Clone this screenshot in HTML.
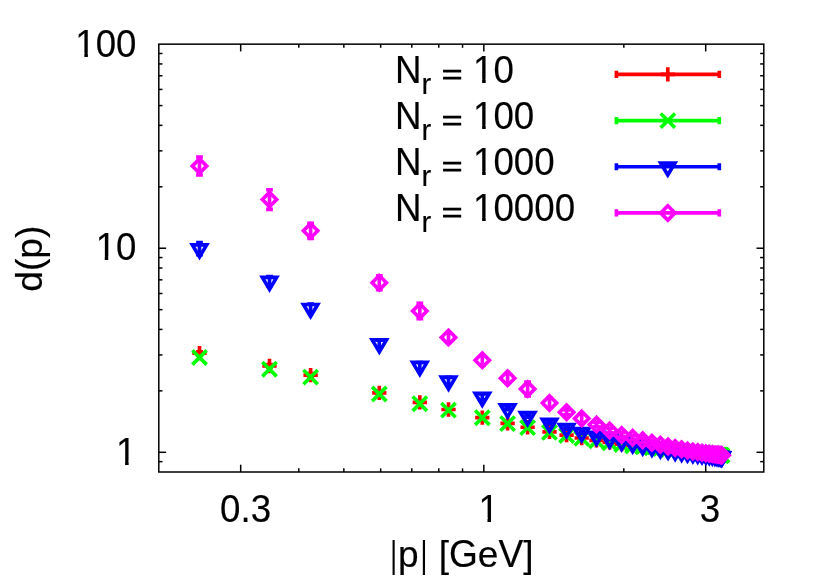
<!DOCTYPE html>
<html><head><meta charset="utf-8"><title>d(p)</title>
<style>
html,body{margin:0;padding:0;background:#fff;}
svg{display:block;will-change:transform;}
text{font-family:"Liberation Sans",sans-serif;font-size:37.2px;fill:#000;stroke:#000;stroke-width:0.15px;font-kerning:none;}
</style></head><body>
<svg width="830" height="581" viewBox="0 0 830 581">
<rect width="830" height="581" fill="#fff"/>
<rect x="158.8" y="44.15" width="605.0" height="427.85" fill="none" stroke="#000" stroke-width="1.5"/>
<line x1="240.69" y1="472.00" x2="240.69" y2="464.70" stroke="#000" stroke-width="1.5" />
<line x1="240.69" y1="44.15" x2="240.69" y2="51.45" stroke="#000" stroke-width="1.5" />
<line x1="298.78" y1="472.00" x2="298.78" y2="468.35" stroke="#000" stroke-width="1.5" />
<line x1="298.78" y1="44.15" x2="298.78" y2="47.80" stroke="#000" stroke-width="1.5" />
<line x1="343.85" y1="472.00" x2="343.85" y2="468.35" stroke="#000" stroke-width="1.5" />
<line x1="343.85" y1="44.15" x2="343.85" y2="47.80" stroke="#000" stroke-width="1.5" />
<line x1="380.67" y1="472.00" x2="380.67" y2="468.35" stroke="#000" stroke-width="1.5" />
<line x1="380.67" y1="44.15" x2="380.67" y2="47.80" stroke="#000" stroke-width="1.5" />
<line x1="411.80" y1="472.00" x2="411.80" y2="468.35" stroke="#000" stroke-width="1.5" />
<line x1="411.80" y1="44.15" x2="411.80" y2="47.80" stroke="#000" stroke-width="1.5" />
<line x1="438.77" y1="472.00" x2="438.77" y2="468.35" stroke="#000" stroke-width="1.5" />
<line x1="438.77" y1="44.15" x2="438.77" y2="47.80" stroke="#000" stroke-width="1.5" />
<line x1="462.55" y1="472.00" x2="462.55" y2="468.35" stroke="#000" stroke-width="1.5" />
<line x1="462.55" y1="44.15" x2="462.55" y2="47.80" stroke="#000" stroke-width="1.5" />
<line x1="483.83" y1="472.00" x2="483.83" y2="464.70" stroke="#000" stroke-width="1.5" />
<line x1="483.83" y1="44.15" x2="483.83" y2="51.45" stroke="#000" stroke-width="1.5" />
<line x1="623.82" y1="472.00" x2="623.82" y2="468.35" stroke="#000" stroke-width="1.5" />
<line x1="623.82" y1="44.15" x2="623.82" y2="47.80" stroke="#000" stroke-width="1.5" />
<line x1="705.70" y1="472.00" x2="705.70" y2="464.70" stroke="#000" stroke-width="1.5" />
<line x1="705.70" y1="44.15" x2="705.70" y2="51.45" stroke="#000" stroke-width="1.5" />
<line x1="158.80" y1="452.30" x2="166.10" y2="452.30" stroke="#000" stroke-width="1.5" />
<line x1="763.80" y1="452.30" x2="756.50" y2="452.30" stroke="#000" stroke-width="1.5" />
<line x1="158.80" y1="390.87" x2="162.45" y2="390.87" stroke="#000" stroke-width="1.5" />
<line x1="763.80" y1="390.87" x2="760.15" y2="390.87" stroke="#000" stroke-width="1.5" />
<line x1="158.80" y1="354.93" x2="162.45" y2="354.93" stroke="#000" stroke-width="1.5" />
<line x1="763.80" y1="354.93" x2="760.15" y2="354.93" stroke="#000" stroke-width="1.5" />
<line x1="158.80" y1="329.43" x2="162.45" y2="329.43" stroke="#000" stroke-width="1.5" />
<line x1="763.80" y1="329.43" x2="760.15" y2="329.43" stroke="#000" stroke-width="1.5" />
<line x1="158.80" y1="309.66" x2="162.45" y2="309.66" stroke="#000" stroke-width="1.5" />
<line x1="763.80" y1="309.66" x2="760.15" y2="309.66" stroke="#000" stroke-width="1.5" />
<line x1="158.80" y1="293.50" x2="162.45" y2="293.50" stroke="#000" stroke-width="1.5" />
<line x1="763.80" y1="293.50" x2="760.15" y2="293.50" stroke="#000" stroke-width="1.5" />
<line x1="158.80" y1="279.84" x2="162.45" y2="279.84" stroke="#000" stroke-width="1.5" />
<line x1="763.80" y1="279.84" x2="760.15" y2="279.84" stroke="#000" stroke-width="1.5" />
<line x1="158.80" y1="268.00" x2="162.45" y2="268.00" stroke="#000" stroke-width="1.5" />
<line x1="763.80" y1="268.00" x2="760.15" y2="268.00" stroke="#000" stroke-width="1.5" />
<line x1="158.80" y1="257.56" x2="162.45" y2="257.56" stroke="#000" stroke-width="1.5" />
<line x1="763.80" y1="257.56" x2="760.15" y2="257.56" stroke="#000" stroke-width="1.5" />
<line x1="158.80" y1="248.23" x2="166.10" y2="248.23" stroke="#000" stroke-width="1.5" />
<line x1="763.80" y1="248.23" x2="756.50" y2="248.23" stroke="#000" stroke-width="1.5" />
<line x1="158.80" y1="186.79" x2="162.45" y2="186.79" stroke="#000" stroke-width="1.5" />
<line x1="763.80" y1="186.79" x2="760.15" y2="186.79" stroke="#000" stroke-width="1.5" />
<line x1="158.80" y1="150.86" x2="162.45" y2="150.86" stroke="#000" stroke-width="1.5" />
<line x1="763.80" y1="150.86" x2="760.15" y2="150.86" stroke="#000" stroke-width="1.5" />
<line x1="158.80" y1="125.36" x2="162.45" y2="125.36" stroke="#000" stroke-width="1.5" />
<line x1="763.80" y1="125.36" x2="760.15" y2="125.36" stroke="#000" stroke-width="1.5" />
<line x1="158.80" y1="105.58" x2="162.45" y2="105.58" stroke="#000" stroke-width="1.5" />
<line x1="763.80" y1="105.58" x2="760.15" y2="105.58" stroke="#000" stroke-width="1.5" />
<line x1="158.80" y1="89.42" x2="162.45" y2="89.42" stroke="#000" stroke-width="1.5" />
<line x1="763.80" y1="89.42" x2="760.15" y2="89.42" stroke="#000" stroke-width="1.5" />
<line x1="158.80" y1="75.76" x2="162.45" y2="75.76" stroke="#000" stroke-width="1.5" />
<line x1="763.80" y1="75.76" x2="760.15" y2="75.76" stroke="#000" stroke-width="1.5" />
<line x1="158.80" y1="63.93" x2="162.45" y2="63.93" stroke="#000" stroke-width="1.5" />
<line x1="763.80" y1="63.93" x2="760.15" y2="63.93" stroke="#000" stroke-width="1.5" />
<line x1="158.80" y1="53.49" x2="162.45" y2="53.49" stroke="#000" stroke-width="1.5" />
<line x1="763.80" y1="53.49" x2="760.15" y2="53.49" stroke="#000" stroke-width="1.5" />
<line x1="158.80" y1="461.64" x2="162.45" y2="461.64" stroke="#000" stroke-width="1.5" />
<line x1="763.80" y1="461.64" x2="760.15" y2="461.64" stroke="#000" stroke-width="1.5" />
<path d="M616.4 74.4H719.3M616.4 70.85000000000001v7.1M719.3 70.85000000000001v7.1" stroke="#ff0000" stroke-width="3.65" fill="none"/>
<path d="M660.65 74.40h14.3M667.80 67.25v14.3" stroke="#ff0000" stroke-width="3.65" fill="none"/>
<path d="M199.50 351.70V354.70M196.10 351.70h6.8M196.10 354.70h6.8" stroke="#ff0000" stroke-width="3.65" fill="none"/>
<path d="M192.35 353.20h14.3M199.50 346.05v14.3" stroke="#ff0000" stroke-width="3.65" fill="none"/>
<path d="M269.50 364.50V367.50M266.10 364.50h6.8M266.10 367.50h6.8" stroke="#ff0000" stroke-width="3.65" fill="none"/>
<path d="M262.35 366.00h14.3M269.50 358.85v14.3" stroke="#ff0000" stroke-width="3.65" fill="none"/>
<path d="M310.60 373.60V376.60M307.20 373.60h6.8M307.20 376.60h6.8" stroke="#ff0000" stroke-width="3.65" fill="none"/>
<path d="M303.45 375.10h14.3M310.60 367.95v14.3" stroke="#ff0000" stroke-width="3.65" fill="none"/>
<path d="M379.30 391.40V394.40M375.90 391.40h6.8M375.90 394.40h6.8" stroke="#ff0000" stroke-width="3.65" fill="none"/>
<path d="M372.15 392.90h14.3M379.30 385.75v14.3" stroke="#ff0000" stroke-width="3.65" fill="none"/>
<path d="M419.80 400.80V403.80M416.40 400.80h6.8M416.40 403.80h6.8" stroke="#ff0000" stroke-width="3.65" fill="none"/>
<path d="M412.65 402.30h14.3M419.80 395.15v14.3" stroke="#ff0000" stroke-width="3.65" fill="none"/>
<path d="M448.50 408.00V411.00M445.10 408.00h6.8M445.10 411.00h6.8" stroke="#ff0000" stroke-width="3.65" fill="none"/>
<path d="M441.35 409.50h14.3M448.50 402.35v14.3" stroke="#ff0000" stroke-width="3.65" fill="none"/>
<path d="M482.30 416.10V419.10M478.90 416.10h6.8M478.90 419.10h6.8" stroke="#ff0000" stroke-width="3.65" fill="none"/>
<path d="M475.15 417.60h14.3M482.30 410.45v14.3" stroke="#ff0000" stroke-width="3.65" fill="none"/>
<path d="M507.60 421.80V424.80M504.20 421.80h6.8M504.20 424.80h6.8" stroke="#ff0000" stroke-width="3.65" fill="none"/>
<path d="M500.45 423.30h14.3M507.60 416.15v14.3" stroke="#ff0000" stroke-width="3.65" fill="none"/>
<path d="M527.60 426.27V428.27M524.20 426.27h6.8M524.20 428.27h6.8" stroke="#ff0000" stroke-width="3.65" fill="none"/>
<path d="M520.45 427.27h14.3M527.60 420.12v14.3" stroke="#ff0000" stroke-width="3.65" fill="none"/>
<path d="M549.50 430.93V432.93M546.10 430.93h6.8M546.10 432.93h6.8" stroke="#ff0000" stroke-width="3.65" fill="none"/>
<path d="M542.35 431.93h14.3M549.50 424.78v14.3" stroke="#ff0000" stroke-width="3.65" fill="none"/>
<path d="M566.60 434.10V436.10M563.20 434.10h6.8M563.20 436.10h6.8" stroke="#ff0000" stroke-width="3.65" fill="none"/>
<path d="M559.45 435.10h14.3M566.60 427.95v14.3" stroke="#ff0000" stroke-width="3.65" fill="none"/>
<path d="M581.70 437.02V439.02M578.30 437.02h6.8M578.30 439.02h6.8" stroke="#ff0000" stroke-width="3.65" fill="none"/>
<path d="M574.55 438.02h14.3M581.70 430.87v14.3" stroke="#ff0000" stroke-width="3.65" fill="none"/>
<path d="M596.45 439.44V441.44M593.05 439.44h6.8M593.05 441.44h6.8" stroke="#ff0000" stroke-width="3.65" fill="none"/>
<path d="M589.30 440.44h14.3M596.45 433.29v14.3" stroke="#ff0000" stroke-width="3.65" fill="none"/>
<path d="M609.64 441.46V443.46M606.24 441.46h6.8M606.24 443.46h6.8" stroke="#ff0000" stroke-width="3.65" fill="none"/>
<path d="M602.49 442.46h14.3M609.64 435.31v14.3" stroke="#ff0000" stroke-width="3.65" fill="none"/>
<path d="M621.66 443.18V445.18M618.26 443.18h6.8M618.26 445.18h6.8" stroke="#ff0000" stroke-width="3.65" fill="none"/>
<path d="M614.51 444.18h14.3M621.66 437.03v14.3" stroke="#ff0000" stroke-width="3.65" fill="none"/>
<path d="M632.65 444.50V446.50M629.25 444.50h6.8M629.25 446.50h6.8" stroke="#ff0000" stroke-width="3.65" fill="none"/>
<path d="M625.50 445.50h14.3M632.65 438.35v14.3" stroke="#ff0000" stroke-width="3.65" fill="none"/>
<path d="M642.70 445.51V447.51M639.30 445.51h6.8M639.30 447.51h6.8" stroke="#ff0000" stroke-width="3.65" fill="none"/>
<path d="M635.55 446.51h14.3M642.70 439.37v14.3" stroke="#ff0000" stroke-width="3.65" fill="none"/>
<path d="M651.91 446.53V448.53M648.51 446.53h6.8M648.51 448.53h6.8" stroke="#ff0000" stroke-width="3.65" fill="none"/>
<path d="M644.76 447.53h14.3M651.91 440.38v14.3" stroke="#ff0000" stroke-width="3.65" fill="none"/>
<path d="M660.35 447.40V449.40M656.95 447.40h6.8M656.95 449.40h6.8" stroke="#ff0000" stroke-width="3.65" fill="none"/>
<path d="M653.20 448.40h14.3M660.35 441.25v14.3" stroke="#ff0000" stroke-width="3.65" fill="none"/>
<path d="M668.08 448.26V450.26M664.68 448.26h6.8M664.68 450.26h6.8" stroke="#ff0000" stroke-width="3.65" fill="none"/>
<path d="M660.93 449.26h14.3M668.08 442.11v14.3" stroke="#ff0000" stroke-width="3.65" fill="none"/>
<path d="M675.15 449.12V451.12M671.75 449.12h6.8M671.75 451.12h6.8" stroke="#ff0000" stroke-width="3.65" fill="none"/>
<path d="M668.00 450.12h14.3M675.15 442.97v14.3" stroke="#ff0000" stroke-width="3.65" fill="none"/>
<path d="M681.61 449.99V451.99M678.21 449.99h6.8M678.21 451.99h6.8" stroke="#ff0000" stroke-width="3.65" fill="none"/>
<path d="M674.46 450.99h14.3M681.61 443.84v14.3" stroke="#ff0000" stroke-width="3.65" fill="none"/>
<path d="M687.50 450.53V452.53M684.10 450.53h6.8M684.10 452.53h6.8" stroke="#ff0000" stroke-width="3.65" fill="none"/>
<path d="M680.35 451.53h14.3M687.50 444.38v14.3" stroke="#ff0000" stroke-width="3.65" fill="none"/>
<path d="M692.85 451.07V453.07M689.45 451.07h6.8M689.45 453.07h6.8" stroke="#ff0000" stroke-width="3.65" fill="none"/>
<path d="M685.70 452.07h14.3M692.85 444.92v14.3" stroke="#ff0000" stroke-width="3.65" fill="none"/>
<path d="M697.69 451.61V453.61M694.29 451.61h6.8M694.29 453.61h6.8" stroke="#ff0000" stroke-width="3.65" fill="none"/>
<path d="M690.54 452.61h14.3M697.69 445.46v14.3" stroke="#ff0000" stroke-width="3.65" fill="none"/>
<path d="M702.03 452.15V454.15M698.63 452.15h6.8M698.63 454.15h6.8" stroke="#ff0000" stroke-width="3.65" fill="none"/>
<path d="M694.88 453.15h14.3M702.03 446.00v14.3" stroke="#ff0000" stroke-width="3.65" fill="none"/>
<path d="M705.91 452.52V454.52M702.51 452.52h6.8M702.51 454.52h6.8" stroke="#ff0000" stroke-width="3.65" fill="none"/>
<path d="M698.76 453.52h14.3M705.91 446.37v14.3" stroke="#ff0000" stroke-width="3.65" fill="none"/>
<path d="M709.34 452.88V454.88M705.94 452.88h6.8M705.94 454.88h6.8" stroke="#ff0000" stroke-width="3.65" fill="none"/>
<path d="M702.19 453.88h14.3M709.34 446.73v14.3" stroke="#ff0000" stroke-width="3.65" fill="none"/>
<path d="M712.33 453.24V455.24M708.93 453.24h6.8M708.93 455.24h6.8" stroke="#ff0000" stroke-width="3.65" fill="none"/>
<path d="M705.18 454.24h14.3M712.33 447.09v14.3" stroke="#ff0000" stroke-width="3.65" fill="none"/>
<path d="M714.90 453.61V455.61M711.50 453.61h6.8M711.50 455.61h6.8" stroke="#ff0000" stroke-width="3.65" fill="none"/>
<path d="M707.75 454.61h14.3M714.90 447.46v14.3" stroke="#ff0000" stroke-width="3.65" fill="none"/>
<path d="M717.06 453.76V455.76M713.66 453.76h6.8M713.66 455.76h6.8" stroke="#ff0000" stroke-width="3.65" fill="none"/>
<path d="M709.91 454.76h14.3M717.06 447.61v14.3" stroke="#ff0000" stroke-width="3.65" fill="none"/>
<path d="M718.81 453.91V455.91M715.41 453.91h6.8M715.41 455.91h6.8" stroke="#ff0000" stroke-width="3.65" fill="none"/>
<path d="M711.66 454.91h14.3M718.81 447.76v14.3" stroke="#ff0000" stroke-width="3.65" fill="none"/>
<path d="M720.16 454.06V456.06M716.76 454.06h6.8M716.76 456.06h6.8" stroke="#ff0000" stroke-width="3.65" fill="none"/>
<path d="M713.01 455.06h14.3M720.16 447.91v14.3" stroke="#ff0000" stroke-width="3.65" fill="none"/>
<path d="M721.13 454.20V456.20M717.73 454.20h6.8M717.73 456.20h6.8" stroke="#ff0000" stroke-width="3.65" fill="none"/>
<path d="M713.98 455.20h14.3M721.13 448.05v14.3" stroke="#ff0000" stroke-width="3.65" fill="none"/>
<path d="M721.71 454.35V456.35M718.31 454.35h6.8M718.31 456.35h6.8" stroke="#ff0000" stroke-width="3.65" fill="none"/>
<path d="M714.56 455.35h14.3M721.71 448.20v14.3" stroke="#ff0000" stroke-width="3.65" fill="none"/>
<path d="M721.90 454.50V456.50M718.50 454.50h6.8M718.50 456.50h6.8" stroke="#ff0000" stroke-width="3.65" fill="none"/>
<path d="M714.75 455.50h14.3M721.90 448.35v14.3" stroke="#ff0000" stroke-width="3.65" fill="none"/>
<path d="M616.4 120.6H719.3M616.4 117.05v7.1M719.3 117.05v7.1" stroke="#00ff00" stroke-width="3.65" fill="none"/>
<path d="M660.65 113.45l14.3 14.3M660.65 127.75l14.3 -14.3" stroke="#00ff00" stroke-width="3.65" fill="none"/>
<path d="M192.35 350.35l14.3 14.3M192.35 364.65l14.3 -14.3" stroke="#00ff00" stroke-width="3.65" fill="none"/>
<path d="M262.35 362.05l14.3 14.3M262.35 376.35l14.3 -14.3" stroke="#00ff00" stroke-width="3.65" fill="none"/>
<path d="M303.45 369.95l14.3 14.3M303.45 384.25l14.3 -14.3" stroke="#00ff00" stroke-width="3.65" fill="none"/>
<path d="M372.15 386.85l14.3 14.3M372.15 401.15l14.3 -14.3" stroke="#00ff00" stroke-width="3.65" fill="none"/>
<path d="M412.65 396.55l14.3 14.3M412.65 410.85l14.3 -14.3" stroke="#00ff00" stroke-width="3.65" fill="none"/>
<path d="M441.35 402.95l14.3 14.3M441.35 417.25l14.3 -14.3" stroke="#00ff00" stroke-width="3.65" fill="none"/>
<path d="M475.15 410.55l14.3 14.3M475.15 424.85l14.3 -14.3" stroke="#00ff00" stroke-width="3.65" fill="none"/>
<path d="M500.45 416.45l14.3 14.3M500.45 430.75l14.3 -14.3" stroke="#00ff00" stroke-width="3.65" fill="none"/>
<path d="M520.45 420.45l14.3 14.3M520.45 434.75l14.3 -14.3" stroke="#00ff00" stroke-width="3.65" fill="none"/>
<path d="M542.35 425.15l14.3 14.3M542.35 439.45l14.3 -14.3" stroke="#00ff00" stroke-width="3.65" fill="none"/>
<path d="M559.45 428.35l14.3 14.3M559.45 442.65l14.3 -14.3" stroke="#00ff00" stroke-width="3.65" fill="none"/>
<path d="M574.55 431.25l14.3 14.3M574.55 445.55l14.3 -14.3" stroke="#00ff00" stroke-width="3.65" fill="none"/>
<path d="M589.30 433.65l14.3 14.3M589.30 447.95l14.3 -14.3" stroke="#00ff00" stroke-width="3.65" fill="none"/>
<path d="M602.49 435.65l14.3 14.3M602.49 449.95l14.3 -14.3" stroke="#00ff00" stroke-width="3.65" fill="none"/>
<path d="M614.51 437.35l14.3 14.3M614.51 451.65l14.3 -14.3" stroke="#00ff00" stroke-width="3.65" fill="none"/>
<path d="M625.50 438.65l14.3 14.3M625.50 452.95l14.3 -14.3" stroke="#00ff00" stroke-width="3.65" fill="none"/>
<path d="M635.55 439.65l14.3 14.3M635.55 453.95l14.3 -14.3" stroke="#00ff00" stroke-width="3.65" fill="none"/>
<path d="M644.76 440.65l14.3 14.3M644.76 454.95l14.3 -14.3" stroke="#00ff00" stroke-width="3.65" fill="none"/>
<path d="M653.20 441.50l14.3 14.3M653.20 455.80l14.3 -14.3" stroke="#00ff00" stroke-width="3.65" fill="none"/>
<path d="M660.93 442.35l14.3 14.3M660.93 456.65l14.3 -14.3" stroke="#00ff00" stroke-width="3.65" fill="none"/>
<path d="M668.00 443.20l14.3 14.3M668.00 457.50l14.3 -14.3" stroke="#00ff00" stroke-width="3.65" fill="none"/>
<path d="M674.46 444.05l14.3 14.3M674.46 458.35l14.3 -14.3" stroke="#00ff00" stroke-width="3.65" fill="none"/>
<path d="M680.35 444.57l14.3 14.3M680.35 458.87l14.3 -14.3" stroke="#00ff00" stroke-width="3.65" fill="none"/>
<path d="M685.70 445.10l14.3 14.3M685.70 459.40l14.3 -14.3" stroke="#00ff00" stroke-width="3.65" fill="none"/>
<path d="M690.54 445.63l14.3 14.3M690.54 459.93l14.3 -14.3" stroke="#00ff00" stroke-width="3.65" fill="none"/>
<path d="M694.88 446.15l14.3 14.3M694.88 460.45l14.3 -14.3" stroke="#00ff00" stroke-width="3.65" fill="none"/>
<path d="M698.76 446.50l14.3 14.3M698.76 460.80l14.3 -14.3" stroke="#00ff00" stroke-width="3.65" fill="none"/>
<path d="M702.19 446.85l14.3 14.3M702.19 461.15l14.3 -14.3" stroke="#00ff00" stroke-width="3.65" fill="none"/>
<path d="M705.18 447.20l14.3 14.3M705.18 461.50l14.3 -14.3" stroke="#00ff00" stroke-width="3.65" fill="none"/>
<path d="M707.75 447.55l14.3 14.3M707.75 461.85l14.3 -14.3" stroke="#00ff00" stroke-width="3.65" fill="none"/>
<path d="M709.91 447.68l14.3 14.3M709.91 461.98l14.3 -14.3" stroke="#00ff00" stroke-width="3.65" fill="none"/>
<path d="M711.66 447.82l14.3 14.3M711.66 462.12l14.3 -14.3" stroke="#00ff00" stroke-width="3.65" fill="none"/>
<path d="M713.01 447.95l14.3 14.3M713.01 462.25l14.3 -14.3" stroke="#00ff00" stroke-width="3.65" fill="none"/>
<path d="M713.98 448.08l14.3 14.3M713.98 462.38l14.3 -14.3" stroke="#00ff00" stroke-width="3.65" fill="none"/>
<path d="M714.56 448.22l14.3 14.3M714.56 462.52l14.3 -14.3" stroke="#00ff00" stroke-width="3.65" fill="none"/>
<path d="M714.75 448.35l14.3 14.3M714.75 462.65l14.3 -14.3" stroke="#00ff00" stroke-width="3.65" fill="none"/>
<path d="M616.4 166.7H719.3M616.4 163.14999999999998v7.1M719.3 163.14999999999998v7.1" stroke="#0000ff" stroke-width="3.65" fill="none"/>
<path d="M667.80 174.99l-7.15 -11.99h14.3z" stroke="#0000ff" stroke-width="3.65" fill="none" stroke-miterlimit="10"/>
<rect x="661.8" y="164.1" width="12" height="1.4" fill="#0000ff"/>
<path d="M199.50 242.60V254.60M196.10 242.60h6.8M196.10 254.60h6.8" stroke="#0000ff" stroke-width="3.65" fill="none"/>
<path d="M199.50 256.89l-7.15 -11.99h14.3z" stroke="#0000ff" stroke-width="3.65" fill="none" stroke-miterlimit="10"/>
<path d="M269.50 276.60V285.60M266.10 276.60h6.8M266.10 285.60h6.8" stroke="#0000ff" stroke-width="3.65" fill="none"/>
<path d="M269.50 289.39l-7.15 -11.99h14.3z" stroke="#0000ff" stroke-width="3.65" fill="none" stroke-miterlimit="10"/>
<path d="M310.60 304.00V312.40M307.20 304.00h6.8M307.20 312.40h6.8" stroke="#0000ff" stroke-width="3.65" fill="none"/>
<path d="M310.60 316.49l-7.15 -11.99h14.3z" stroke="#0000ff" stroke-width="3.65" fill="none" stroke-miterlimit="10"/>
<path d="M379.30 339.80V347.40M375.90 339.80h6.8M375.90 347.40h6.8" stroke="#0000ff" stroke-width="3.65" fill="none"/>
<path d="M379.30 351.89l-7.15 -11.99h14.3z" stroke="#0000ff" stroke-width="3.65" fill="none" stroke-miterlimit="10"/>
<path d="M419.80 362.50V369.70M416.40 362.50h6.8M416.40 369.70h6.8" stroke="#0000ff" stroke-width="3.65" fill="none"/>
<path d="M419.80 374.39l-7.15 -11.99h14.3z" stroke="#0000ff" stroke-width="3.65" fill="none" stroke-miterlimit="10"/>
<path d="M448.50 377.40V384.20M445.10 377.40h6.8M445.10 384.20h6.8" stroke="#0000ff" stroke-width="3.65" fill="none"/>
<path d="M448.50 389.09l-7.15 -11.99h14.3z" stroke="#0000ff" stroke-width="3.65" fill="none" stroke-miterlimit="10"/>
<path d="M482.30 394.00V400.00M478.90 394.00h6.8M478.90 400.00h6.8" stroke="#0000ff" stroke-width="3.65" fill="none"/>
<path d="M482.30 405.29l-7.15 -11.99h14.3z" stroke="#0000ff" stroke-width="3.65" fill="none" stroke-miterlimit="10"/>
<path d="M507.60 407.60V409.60M504.20 407.60h6.8M504.20 409.60h6.8" stroke="#0000ff" stroke-width="3.65" fill="none"/>
<path d="M507.60 416.89l-7.15 -11.99h14.3z" stroke="#0000ff" stroke-width="3.65" fill="none" stroke-miterlimit="10"/>
<path d="M527.60 415.20V417.20M524.20 415.20h6.8M524.20 417.20h6.8" stroke="#0000ff" stroke-width="3.65" fill="none"/>
<path d="M527.60 424.49l-7.15 -11.99h14.3z" stroke="#0000ff" stroke-width="3.65" fill="none" stroke-miterlimit="10"/>
<path d="M549.50 422.00V424.00M546.10 422.00h6.8M546.10 424.00h6.8" stroke="#0000ff" stroke-width="3.65" fill="none"/>
<path d="M549.50 431.29l-7.15 -11.99h14.3z" stroke="#0000ff" stroke-width="3.65" fill="none" stroke-miterlimit="10"/>
<path d="M566.60 427.20V429.20M563.20 427.20h6.8M563.20 429.20h6.8" stroke="#0000ff" stroke-width="3.65" fill="none"/>
<path d="M566.60 436.49l-7.15 -11.99h14.3z" stroke="#0000ff" stroke-width="3.65" fill="none" stroke-miterlimit="10"/>
<path d="M581.70 431.30V433.30M578.30 431.30h6.8M578.30 433.30h6.8" stroke="#0000ff" stroke-width="3.65" fill="none"/>
<path d="M581.70 440.59l-7.15 -11.99h14.3z" stroke="#0000ff" stroke-width="3.65" fill="none" stroke-miterlimit="10"/>
<path d="M596.45 434.90V436.90M593.05 434.90h6.8M593.05 436.90h6.8" stroke="#0000ff" stroke-width="3.65" fill="none"/>
<path d="M596.45 444.19l-7.15 -11.99h14.3z" stroke="#0000ff" stroke-width="3.65" fill="none" stroke-miterlimit="10"/>
<path d="M609.64 437.70V439.70M606.24 437.70h6.8M606.24 439.70h6.8" stroke="#0000ff" stroke-width="3.65" fill="none"/>
<path d="M609.64 446.99l-7.15 -11.99h14.3z" stroke="#0000ff" stroke-width="3.65" fill="none" stroke-miterlimit="10"/>
<path d="M621.66 440.10V442.10M618.26 440.10h6.8M618.26 442.10h6.8" stroke="#0000ff" stroke-width="3.65" fill="none"/>
<path d="M621.66 449.39l-7.15 -11.99h14.3z" stroke="#0000ff" stroke-width="3.65" fill="none" stroke-miterlimit="10"/>
<path d="M632.65 442.40V444.40M629.25 442.40h6.8M629.25 444.40h6.8" stroke="#0000ff" stroke-width="3.65" fill="none"/>
<path d="M632.65 451.69l-7.15 -11.99h14.3z" stroke="#0000ff" stroke-width="3.65" fill="none" stroke-miterlimit="10"/>
<path d="M642.70 444.30V446.30M639.30 444.30h6.8M639.30 446.30h6.8" stroke="#0000ff" stroke-width="3.65" fill="none"/>
<path d="M642.70 453.59l-7.15 -11.99h14.3z" stroke="#0000ff" stroke-width="3.65" fill="none" stroke-miterlimit="10"/>
<path d="M651.91 445.90V447.90M648.51 445.90h6.8M648.51 447.90h6.8" stroke="#0000ff" stroke-width="3.65" fill="none"/>
<path d="M651.91 455.19l-7.15 -11.99h14.3z" stroke="#0000ff" stroke-width="3.65" fill="none" stroke-miterlimit="10"/>
<path d="M660.35 447.30V449.30M656.95 447.30h6.8M656.95 449.30h6.8" stroke="#0000ff" stroke-width="3.65" fill="none"/>
<path d="M660.35 456.59l-7.15 -11.99h14.3z" stroke="#0000ff" stroke-width="3.65" fill="none" stroke-miterlimit="10"/>
<path d="M668.08 448.70V450.70M664.68 448.70h6.8M664.68 450.70h6.8" stroke="#0000ff" stroke-width="3.65" fill="none"/>
<path d="M668.08 457.99l-7.15 -11.99h14.3z" stroke="#0000ff" stroke-width="3.65" fill="none" stroke-miterlimit="10"/>
<path d="M675.15 449.90V451.90M671.75 449.90h6.8M671.75 451.90h6.8" stroke="#0000ff" stroke-width="3.65" fill="none"/>
<path d="M675.15 459.19l-7.15 -11.99h14.3z" stroke="#0000ff" stroke-width="3.65" fill="none" stroke-miterlimit="10"/>
<path d="M681.61 450.80V452.80M678.21 450.80h6.8M678.21 452.80h6.8" stroke="#0000ff" stroke-width="3.65" fill="none"/>
<path d="M681.61 460.09l-7.15 -11.99h14.3z" stroke="#0000ff" stroke-width="3.65" fill="none" stroke-miterlimit="10"/>
<path d="M687.50 451.50V453.50M684.10 451.50h6.8M684.10 453.50h6.8" stroke="#0000ff" stroke-width="3.65" fill="none"/>
<path d="M687.50 460.79l-7.15 -11.99h14.3z" stroke="#0000ff" stroke-width="3.65" fill="none" stroke-miterlimit="10"/>
<path d="M692.85 452.10V454.10M689.45 452.10h6.8M689.45 454.10h6.8" stroke="#0000ff" stroke-width="3.65" fill="none"/>
<path d="M692.85 461.39l-7.15 -11.99h14.3z" stroke="#0000ff" stroke-width="3.65" fill="none" stroke-miterlimit="10"/>
<path d="M697.69 452.60V454.60M694.29 452.60h6.8M694.29 454.60h6.8" stroke="#0000ff" stroke-width="3.65" fill="none"/>
<path d="M697.69 461.89l-7.15 -11.99h14.3z" stroke="#0000ff" stroke-width="3.65" fill="none" stroke-miterlimit="10"/>
<path d="M702.03 453.20V455.20M698.63 453.20h6.8M698.63 455.20h6.8" stroke="#0000ff" stroke-width="3.65" fill="none"/>
<path d="M702.03 462.49l-7.15 -11.99h14.3z" stroke="#0000ff" stroke-width="3.65" fill="none" stroke-miterlimit="10"/>
<path d="M705.91 453.60V455.60M702.51 453.60h6.8M702.51 455.60h6.8" stroke="#0000ff" stroke-width="3.65" fill="none"/>
<path d="M705.91 462.89l-7.15 -11.99h14.3z" stroke="#0000ff" stroke-width="3.65" fill="none" stroke-miterlimit="10"/>
<path d="M709.34 454.00V456.00M705.94 454.00h6.8M705.94 456.00h6.8" stroke="#0000ff" stroke-width="3.65" fill="none"/>
<path d="M709.34 463.29l-7.15 -11.99h14.3z" stroke="#0000ff" stroke-width="3.65" fill="none" stroke-miterlimit="10"/>
<path d="M712.33 454.30V456.30M708.93 454.30h6.8M708.93 456.30h6.8" stroke="#0000ff" stroke-width="3.65" fill="none"/>
<path d="M712.33 463.59l-7.15 -11.99h14.3z" stroke="#0000ff" stroke-width="3.65" fill="none" stroke-miterlimit="10"/>
<path d="M714.90 454.60V456.60M711.50 454.60h6.8M711.50 456.60h6.8" stroke="#0000ff" stroke-width="3.65" fill="none"/>
<path d="M714.90 463.89l-7.15 -11.99h14.3z" stroke="#0000ff" stroke-width="3.65" fill="none" stroke-miterlimit="10"/>
<path d="M717.06 454.80V456.80M713.66 454.80h6.8M713.66 456.80h6.8" stroke="#0000ff" stroke-width="3.65" fill="none"/>
<path d="M717.06 464.09l-7.15 -11.99h14.3z" stroke="#0000ff" stroke-width="3.65" fill="none" stroke-miterlimit="10"/>
<path d="M718.81 455.00V457.00M715.41 455.00h6.8M715.41 457.00h6.8" stroke="#0000ff" stroke-width="3.65" fill="none"/>
<path d="M718.81 464.29l-7.15 -11.99h14.3z" stroke="#0000ff" stroke-width="3.65" fill="none" stroke-miterlimit="10"/>
<path d="M720.16 455.20V457.20M716.76 455.20h6.8M716.76 457.20h6.8" stroke="#0000ff" stroke-width="3.65" fill="none"/>
<path d="M720.16 464.49l-7.15 -11.99h14.3z" stroke="#0000ff" stroke-width="3.65" fill="none" stroke-miterlimit="10"/>
<path d="M721.13 455.30V457.30M717.73 455.30h6.8M717.73 457.30h6.8" stroke="#0000ff" stroke-width="3.65" fill="none"/>
<path d="M721.13 464.59l-7.15 -11.99h14.3z" stroke="#0000ff" stroke-width="3.65" fill="none" stroke-miterlimit="10"/>
<path d="M721.71 455.40V457.40M718.31 455.40h6.8M718.31 457.40h6.8" stroke="#0000ff" stroke-width="3.65" fill="none"/>
<path d="M721.71 464.69l-7.15 -11.99h14.3z" stroke="#0000ff" stroke-width="3.65" fill="none" stroke-miterlimit="10"/>
<path d="M721.90 455.40V457.40M718.50 455.40h6.8M718.50 457.40h6.8" stroke="#0000ff" stroke-width="3.65" fill="none"/>
<path d="M721.90 464.69l-7.15 -11.99h14.3z" stroke="#0000ff" stroke-width="3.65" fill="none" stroke-miterlimit="10"/>
<path d="M616.4 212.9H719.3M616.4 209.35v7.1M719.3 209.35v7.1" stroke="#ff00ff" stroke-width="3.65" fill="none"/>
<path d="M667.80 205.75l-7.15 7.15l7.15 7.15l7.15 -7.15z" stroke="#ff00ff" stroke-width="3.65" fill="none" stroke-miterlimit="10"/>
<path d="M199.50 157.00V175.00M196.10 157.00h6.8M196.10 175.00h6.8" stroke="#ff00ff" stroke-width="3.65" fill="none"/>
<path d="M199.50 158.85l-7.15 7.15l7.15 7.15l7.15 -7.15z" stroke="#ff00ff" stroke-width="3.65" fill="none" stroke-miterlimit="10"/>
<path d="M269.50 189.70V209.30M266.10 189.70h6.8M266.10 209.30h6.8" stroke="#ff00ff" stroke-width="3.65" fill="none"/>
<path d="M269.50 192.35l-7.15 7.15l7.15 7.15l7.15 -7.15z" stroke="#ff00ff" stroke-width="3.65" fill="none" stroke-miterlimit="10"/>
<path d="M310.60 223.20V238.40M307.20 223.20h6.8M307.20 238.40h6.8" stroke="#ff00ff" stroke-width="3.65" fill="none"/>
<path d="M310.60 223.65l-7.15 7.15l7.15 7.15l7.15 -7.15z" stroke="#ff00ff" stroke-width="3.65" fill="none" stroke-miterlimit="10"/>
<path d="M379.30 275.70V289.70M375.90 275.70h6.8M375.90 289.70h6.8" stroke="#ff00ff" stroke-width="3.65" fill="none"/>
<path d="M379.30 275.55l-7.15 7.15l7.15 7.15l7.15 -7.15z" stroke="#ff00ff" stroke-width="3.65" fill="none" stroke-miterlimit="10"/>
<path d="M419.80 303.40V318.60M416.40 303.40h6.8M416.40 318.60h6.8" stroke="#ff00ff" stroke-width="3.65" fill="none"/>
<path d="M419.80 303.85l-7.15 7.15l7.15 7.15l7.15 -7.15z" stroke="#ff00ff" stroke-width="3.65" fill="none" stroke-miterlimit="10"/>
<path d="M448.50 332.80V342.00M445.10 332.80h6.8M445.10 342.00h6.8" stroke="#ff00ff" stroke-width="3.65" fill="none"/>
<path d="M448.50 330.25l-7.15 7.15l7.15 7.15l7.15 -7.15z" stroke="#ff00ff" stroke-width="3.65" fill="none" stroke-miterlimit="10"/>
<path d="M482.30 355.70V364.90M478.90 355.70h6.8M478.90 364.90h6.8" stroke="#ff00ff" stroke-width="3.65" fill="none"/>
<path d="M482.30 353.15l-7.15 7.15l7.15 7.15l7.15 -7.15z" stroke="#ff00ff" stroke-width="3.65" fill="none" stroke-miterlimit="10"/>
<path d="M507.60 373.60V382.80M504.20 373.60h6.8M504.20 382.80h6.8" stroke="#ff00ff" stroke-width="3.65" fill="none"/>
<path d="M507.60 371.05l-7.15 7.15l7.15 7.15l7.15 -7.15z" stroke="#ff00ff" stroke-width="3.65" fill="none" stroke-miterlimit="10"/>
<path d="M527.60 382.10V395.90M524.20 382.10h6.8M524.20 395.90h6.8" stroke="#ff00ff" stroke-width="3.65" fill="none"/>
<path d="M527.60 381.85l-7.15 7.15l7.15 7.15l7.15 -7.15z" stroke="#ff00ff" stroke-width="3.65" fill="none" stroke-miterlimit="10"/>
<path d="M549.50 398.40V407.60M546.10 398.40h6.8M546.10 407.60h6.8" stroke="#ff00ff" stroke-width="3.65" fill="none"/>
<path d="M549.50 395.85l-7.15 7.15l7.15 7.15l7.15 -7.15z" stroke="#ff00ff" stroke-width="3.65" fill="none" stroke-miterlimit="10"/>
<path d="M566.60 409.80V414.80M563.20 409.80h6.8M563.20 414.80h6.8" stroke="#ff00ff" stroke-width="3.65" fill="none"/>
<path d="M566.60 405.15l-7.15 7.15l7.15 7.15l7.15 -7.15z" stroke="#ff00ff" stroke-width="3.65" fill="none" stroke-miterlimit="10"/>
<path d="M581.70 413.90V423.10M578.30 413.90h6.8M578.30 423.10h6.8" stroke="#ff00ff" stroke-width="3.65" fill="none"/>
<path d="M581.70 411.35l-7.15 7.15l7.15 7.15l7.15 -7.15z" stroke="#ff00ff" stroke-width="3.65" fill="none" stroke-miterlimit="10"/>
<path d="M596.45 422.40V426.80M593.05 422.40h6.8M593.05 426.80h6.8" stroke="#ff00ff" stroke-width="3.65" fill="none"/>
<path d="M596.45 417.45l-7.15 7.15l7.15 7.15l7.15 -7.15z" stroke="#ff00ff" stroke-width="3.65" fill="none" stroke-miterlimit="10"/>
<path d="M609.64 428.30V432.70M606.24 428.30h6.8M606.24 432.70h6.8" stroke="#ff00ff" stroke-width="3.65" fill="none"/>
<path d="M609.64 423.35l-7.15 7.15l7.15 7.15l7.15 -7.15z" stroke="#ff00ff" stroke-width="3.65" fill="none" stroke-miterlimit="10"/>
<path d="M621.66 432.70V437.10M618.26 432.70h6.8M618.26 437.10h6.8" stroke="#ff00ff" stroke-width="3.65" fill="none"/>
<path d="M621.66 427.75l-7.15 7.15l7.15 7.15l7.15 -7.15z" stroke="#ff00ff" stroke-width="3.65" fill="none" stroke-miterlimit="10"/>
<path d="M632.65 435.60V440.00M629.25 435.60h6.8M629.25 440.00h6.8" stroke="#ff00ff" stroke-width="3.65" fill="none"/>
<path d="M632.65 430.65l-7.15 7.15l7.15 7.15l7.15 -7.15z" stroke="#ff00ff" stroke-width="3.65" fill="none" stroke-miterlimit="10"/>
<path d="M642.70 438.10V442.50M639.30 438.10h6.8M639.30 442.50h6.8" stroke="#ff00ff" stroke-width="3.65" fill="none"/>
<path d="M642.70 433.15l-7.15 7.15l7.15 7.15l7.15 -7.15z" stroke="#ff00ff" stroke-width="3.65" fill="none" stroke-miterlimit="10"/>
<path d="M651.91 440.60V445.00M648.51 440.60h6.8M648.51 445.00h6.8" stroke="#ff00ff" stroke-width="3.65" fill="none"/>
<path d="M651.91 435.65l-7.15 7.15l7.15 7.15l7.15 -7.15z" stroke="#ff00ff" stroke-width="3.65" fill="none" stroke-miterlimit="10"/>
<path d="M660.35 442.50V446.90M656.95 442.50h6.8M656.95 446.90h6.8" stroke="#ff00ff" stroke-width="3.65" fill="none"/>
<path d="M660.35 437.55l-7.15 7.15l7.15 7.15l7.15 -7.15z" stroke="#ff00ff" stroke-width="3.65" fill="none" stroke-miterlimit="10"/>
<path d="M668.08 444.20V448.60M664.68 444.20h6.8M664.68 448.60h6.8" stroke="#ff00ff" stroke-width="3.65" fill="none"/>
<path d="M668.08 439.25l-7.15 7.15l7.15 7.15l7.15 -7.15z" stroke="#ff00ff" stroke-width="3.65" fill="none" stroke-miterlimit="10"/>
<path d="M675.15 445.70V450.10M671.75 445.70h6.8M671.75 450.10h6.8" stroke="#ff00ff" stroke-width="3.65" fill="none"/>
<path d="M675.15 440.75l-7.15 7.15l7.15 7.15l7.15 -7.15z" stroke="#ff00ff" stroke-width="3.65" fill="none" stroke-miterlimit="10"/>
<path d="M681.61 447.00V451.40M678.21 447.00h6.8M678.21 451.40h6.8" stroke="#ff00ff" stroke-width="3.65" fill="none"/>
<path d="M681.61 442.05l-7.15 7.15l7.15 7.15l7.15 -7.15z" stroke="#ff00ff" stroke-width="3.65" fill="none" stroke-miterlimit="10"/>
<path d="M687.50 448.20V452.60M684.10 448.20h6.8M684.10 452.60h6.8" stroke="#ff00ff" stroke-width="3.65" fill="none"/>
<path d="M687.50 443.25l-7.15 7.15l7.15 7.15l7.15 -7.15z" stroke="#ff00ff" stroke-width="3.65" fill="none" stroke-miterlimit="10"/>
<path d="M692.85 449.20V453.60M689.45 449.20h6.8M689.45 453.60h6.8" stroke="#ff00ff" stroke-width="3.65" fill="none"/>
<path d="M692.85 444.25l-7.15 7.15l7.15 7.15l7.15 -7.15z" stroke="#ff00ff" stroke-width="3.65" fill="none" stroke-miterlimit="10"/>
<path d="M697.69 449.90V454.30M694.29 449.90h6.8M694.29 454.30h6.8" stroke="#ff00ff" stroke-width="3.65" fill="none"/>
<path d="M697.69 444.95l-7.15 7.15l7.15 7.15l7.15 -7.15z" stroke="#ff00ff" stroke-width="3.65" fill="none" stroke-miterlimit="10"/>
<path d="M702.03 450.60V455.00M698.63 450.60h6.8M698.63 455.00h6.8" stroke="#ff00ff" stroke-width="3.65" fill="none"/>
<path d="M702.03 445.65l-7.15 7.15l7.15 7.15l7.15 -7.15z" stroke="#ff00ff" stroke-width="3.65" fill="none" stroke-miterlimit="10"/>
<path d="M705.91 451.10V455.50M702.51 451.10h6.8M702.51 455.50h6.8" stroke="#ff00ff" stroke-width="3.65" fill="none"/>
<path d="M705.91 446.15l-7.15 7.15l7.15 7.15l7.15 -7.15z" stroke="#ff00ff" stroke-width="3.65" fill="none" stroke-miterlimit="10"/>
<path d="M709.34 451.60V456.00M705.94 451.60h6.8M705.94 456.00h6.8" stroke="#ff00ff" stroke-width="3.65" fill="none"/>
<path d="M709.34 446.65l-7.15 7.15l7.15 7.15l7.15 -7.15z" stroke="#ff00ff" stroke-width="3.65" fill="none" stroke-miterlimit="10"/>
<path d="M712.33 451.90V456.30M708.93 451.90h6.8M708.93 456.30h6.8" stroke="#ff00ff" stroke-width="3.65" fill="none"/>
<path d="M712.33 446.95l-7.15 7.15l7.15 7.15l7.15 -7.15z" stroke="#ff00ff" stroke-width="3.65" fill="none" stroke-miterlimit="10"/>
<path d="M714.90 452.20V456.60M711.50 452.20h6.8M711.50 456.60h6.8" stroke="#ff00ff" stroke-width="3.65" fill="none"/>
<path d="M714.90 447.25l-7.15 7.15l7.15 7.15l7.15 -7.15z" stroke="#ff00ff" stroke-width="3.65" fill="none" stroke-miterlimit="10"/>
<path d="M717.06 452.40V456.80M713.66 452.40h6.8M713.66 456.80h6.8" stroke="#ff00ff" stroke-width="3.65" fill="none"/>
<path d="M717.06 447.45l-7.15 7.15l7.15 7.15l7.15 -7.15z" stroke="#ff00ff" stroke-width="3.65" fill="none" stroke-miterlimit="10"/>
<path d="M718.81 452.60V457.00M715.41 452.60h6.8M715.41 457.00h6.8" stroke="#ff00ff" stroke-width="3.65" fill="none"/>
<path d="M718.81 447.65l-7.15 7.15l7.15 7.15l7.15 -7.15z" stroke="#ff00ff" stroke-width="3.65" fill="none" stroke-miterlimit="10"/>
<path d="M720.16 452.80V457.20M716.76 452.80h6.8M716.76 457.20h6.8" stroke="#ff00ff" stroke-width="3.65" fill="none"/>
<path d="M720.16 447.85l-7.15 7.15l7.15 7.15l7.15 -7.15z" stroke="#ff00ff" stroke-width="3.65" fill="none" stroke-miterlimit="10"/>
<path d="M721.13 452.90V457.30M717.73 452.90h6.8M717.73 457.30h6.8" stroke="#ff00ff" stroke-width="3.65" fill="none"/>
<path d="M721.13 447.95l-7.15 7.15l7.15 7.15l7.15 -7.15z" stroke="#ff00ff" stroke-width="3.65" fill="none" stroke-miterlimit="10"/>
<path d="M721.71 453.00V457.40M718.31 453.00h6.8M718.31 457.40h6.8" stroke="#ff00ff" stroke-width="3.65" fill="none"/>
<path d="M721.71 448.05l-7.15 7.15l7.15 7.15l7.15 -7.15z" stroke="#ff00ff" stroke-width="3.65" fill="none" stroke-miterlimit="10"/>
<path d="M721.90 453.10V457.50M718.50 453.10h6.8M718.50 457.50h6.8" stroke="#ff00ff" stroke-width="3.65" fill="none"/>
<path d="M721.90 448.15l-7.15 7.15l7.15 7.15l7.15 -7.15z" stroke="#ff00ff" stroke-width="3.65" fill="none" stroke-miterlimit="10"/>
<text transform="translate(75.28,56.85) scale(0.985,1.018)" xml:space="preserve">100</text>
<text transform="translate(95.65,260.4) scale(0.985,1.018)" xml:space="preserve">10</text>
<text transform="translate(116.03,464.7) scale(0.985,1.018)" xml:space="preserve">1</text>
<text transform="translate(220.08,521.5) scale(0.987,1.018)" xml:space="preserve">0.3</text>
<text transform="translate(478.39,521.5) scale(0.987,1.018)" xml:space="preserve">1</text>
<text transform="translate(699.79,521.5) scale(0.987,1.018)" xml:space="preserve">3</text>
<text transform="translate(388.47,567.0) scale(0.997,1.0)" xml:space="preserve">|p| [</text>
<text transform="translate(449.00,567.0) scale(0.997,1.055)" xml:space="preserve">G</text>
<text transform="translate(477.86,567.0) scale(0.997,1.0)" xml:space="preserve">e</text>
<text transform="translate(498.48,567.0) scale(0.997,1.049)" xml:space="preserve">V</text>
<text transform="translate(523.22,567.0) scale(0.997,1.0)" xml:space="preserve">]</text>
<text transform="translate(41.9,258.7) rotate(-90) scale(1.0,1.012)" text-anchor="middle">d(p)</text>
<text transform="translate(394.90,83.0) scale(0.987,1.049)" xml:space="preserve">N</text>
<text transform="translate(421.41,94.05) scale(0.987,1.0)" style="font-size:29.76px" xml:space="preserve">r</text>
<text transform="translate(441.40,83.0) scale(0.987,1)" style="fill:none;stroke:none">=</text>
<text transform="translate(473.05,83.0) scale(0.987,1.018)" xml:space="preserve">10</text>
<text transform="translate(394.90,129.0) scale(0.987,1.049)" xml:space="preserve">N</text>
<text transform="translate(421.41,140.05) scale(0.987,1.0)" style="font-size:29.76px" xml:space="preserve">r</text>
<text transform="translate(441.40,129.0) scale(0.987,1)" style="fill:none;stroke:none">=</text>
<text transform="translate(473.05,129.0) scale(0.987,1.018)" xml:space="preserve">100</text>
<text transform="translate(394.90,175.0) scale(0.987,1.049)" xml:space="preserve">N</text>
<text transform="translate(421.41,186.05) scale(0.987,1.0)" style="font-size:29.76px" xml:space="preserve">r</text>
<text transform="translate(441.40,175.0) scale(0.987,1)" style="fill:none;stroke:none">=</text>
<text transform="translate(473.05,175.0) scale(0.987,1.018)" xml:space="preserve">1000</text>
<text transform="translate(394.90,221.0) scale(0.987,1.049)" xml:space="preserve">N</text>
<text transform="translate(421.41,232.05) scale(0.987,1.0)" style="font-size:29.76px" xml:space="preserve">r</text>
<text transform="translate(441.40,221.0) scale(0.987,1)" style="fill:none;stroke:none">=</text>
<text transform="translate(473.05,221.0) scale(0.987,1.018)" xml:space="preserve">10000</text>
<rect x="76.01" y="53.02" width="8.33" height="5.43" fill="#fff"/>
<rect x="87.88" y="53.02" width="8.28" height="5.43" fill="#fff"/>
<rect x="96.39" y="256.57" width="8.33" height="5.43" fill="#fff"/>
<rect x="108.26" y="256.57" width="8.28" height="5.43" fill="#fff"/>
<rect x="116.76" y="460.87" width="8.33" height="5.43" fill="#fff"/>
<rect x="128.63" y="460.87" width="8.28" height="5.43" fill="#fff"/>
<rect x="479.13" y="517.67" width="8.35" height="5.43" fill="#fff"/>
<rect x="491.02" y="517.67" width="8.30" height="5.43" fill="#fff"/>
<rect x="394.82" y="539.10" width="2.00" height="37.20" fill="#fff"/>
<rect x="389.59" y="539.10" width="2.97" height="37.20" fill="#fff"/>
<rect x="425.08" y="539.10" width="2.00" height="37.20" fill="#fff"/>
<rect x="419.85" y="539.10" width="2.97" height="37.20" fill="#fff"/>
<rect x="473.78" y="79.17" width="8.35" height="5.43" fill="#fff"/>
<rect x="485.67" y="79.17" width="8.30" height="5.43" fill="#fff"/>
<rect x="473.78" y="125.17" width="8.35" height="5.43" fill="#fff"/>
<rect x="485.67" y="125.17" width="8.30" height="5.43" fill="#fff"/>
<rect x="473.78" y="171.17" width="8.35" height="5.43" fill="#fff"/>
<rect x="485.67" y="171.17" width="8.30" height="5.43" fill="#fff"/>
<rect x="473.78" y="217.17" width="8.35" height="5.43" fill="#fff"/>
<rect x="485.67" y="217.17" width="8.30" height="5.43" fill="#fff"/>
<rect x="443.05" y="76.75" width="18.14" height="2.75" fill="#000"/>
<rect x="443.05" y="69.72" width="18.14" height="2.75" fill="#000"/>
<rect x="443.05" y="122.75" width="18.14" height="2.75" fill="#000"/>
<rect x="443.05" y="115.72" width="18.14" height="2.75" fill="#000"/>
<rect x="443.05" y="168.75" width="18.14" height="2.75" fill="#000"/>
<rect x="443.05" y="161.72" width="18.14" height="2.75" fill="#000"/>
<rect x="443.05" y="214.75" width="18.14" height="2.75" fill="#000"/>
<rect x="443.05" y="207.72" width="18.14" height="2.75" fill="#000"/>
</svg>
</body></html>
